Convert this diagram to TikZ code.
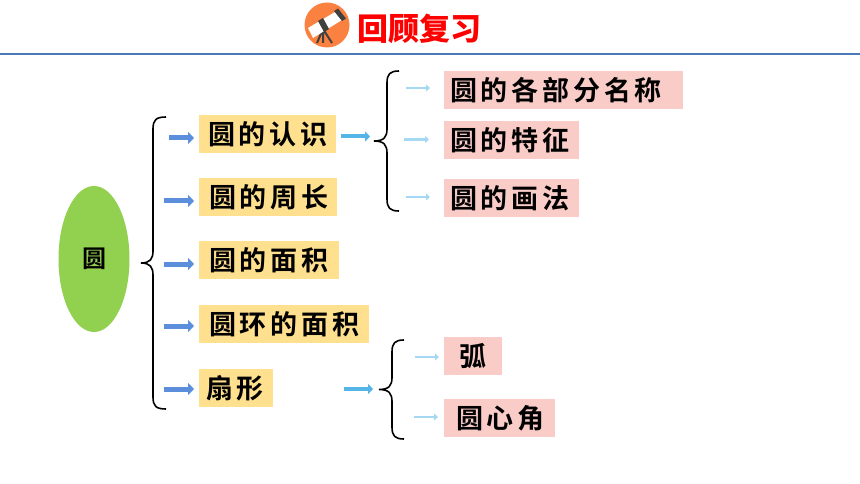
\documentclass[tikz,border=0pt]{standalone}
\usepackage{fontspec}
\usetikzlibrary{arrows.meta,shapes.geometric}
\setmainfont{Noto Sans CJK SC}[Scale=1]
\newfontfamily\cjkm{Noto Sans CJK SC Bold}[LetterSpace=14]
\newfontfamily\cjkt{Noto Sans CJK SC Black}
\definecolor{boxy}{HTML}{FFE08F}
\definecolor{boxp}{HTML}{FACCC8}
\definecolor{blk}{HTML}{5B8FDC}
\definecolor{mid}{HTML}{55B5E6}
\definecolor{lig}{HTML}{A5D8F2}
\definecolor{oval}{HTML}{92D050}
\definecolor{rulec}{HTML}{4A78B8}
\definecolor{orng}{HTML}{FB8140}
\tikzset{
 x=1pt,y=-1pt,
 lbl/.style={inner sep=0pt,minimum height=38pt,anchor=west,font=\cjkm\fontsize{27}{27}\selectfont,text=black},
 ybox/.style={lbl,fill=boxy},
 pbox/.style={lbl,fill=boxp},
 blkarrow/.style={draw=blk,line width=5pt,-{Triangle[length=6pt,width=12pt]},shorten >=5pt},
 midarrow/.style={draw=mid,line width=4pt,-{Triangle[length=5pt,width=10pt]}},
 ligarrow/.style={draw=lig,line width=2.5pt,-{Triangle[length=4pt,width=7pt]}},
 bracec/.style={draw=black,line width=1.6pt},
}
\newcommand{\padtext}[3]{\makebox[#1pt][l]{\hspace*{#2pt}#3}}
\newcommand{\bracepath}[5]{% xend xvert xtip ytop ybot
 \pgfmathsetmacro{\ymid}{(#4+#5)/2}
 \draw[bracec] (#1,#4) .. controls (#2+3,#4) and (#2,#4+3) .. (#2,#4+12) -- (#2,\ymid-12) .. controls (#2,\ymid-4) and (#2-3,\ymid) .. (#3,\ymid) .. controls (#2-3,\ymid) and (#2,\ymid+4) .. (#2,\ymid+12) -- (#2,#5-12) .. controls (#2,#5-3) and (#2+3,#5) .. (#1,#5);
}
\begin{document}
\begin{tikzpicture}
\useasboundingbox (0,0) rectangle (860,484);
\fill[white] (0,0) rectangle (860,484);
% header
\draw[rulec,line width=2pt] (0,54) -- (860,54);
\fill[orng] (327,25) circle (22.5);
\begin{scope}
 \draw[black!75,line width=2pt] (323,29) -- (317,43) (323,29) -- (323,43) (323,29) -- (332,43);
 \fill[white] (308,28) -- (335,12) -- (342,20) -- (313,38) -- cycle;
 \fill[black!75] (334,11) -- (338,8.5) -- (346,18.5) -- (342,21) -- cycle;
 \fill[black!75] (318,21) -- (323,18) -- (329,29) -- (324,32) -- cycle;
\end{scope}
\node[anchor=west,inner sep=0pt,font=\cjkt\fontsize{31}{31}\selectfont,text=red] (title) at (357,29) {回顾复习};
% root
\node[ellipse,fill=oval,minimum width=71pt,minimum height=146pt,inner sep=0pt,font=\cjkm\fontsize{24}{24}\selectfont] (root) at (94,259) {圆};
% level 1
\node[ybox] (a) at (199,134) {\padtext{137}{9}{圆的认识}};
\node[ybox] (b) at (199,197) {\padtext{138}{10}{圆的周长}};
\node[ybox] (c) at (199,260) {\padtext{140}{10}{圆的面积}};
\node[ybox] (d) at (199,324) {\padtext{170}{10}{圆环的面积}};
\node[ybox] (e) at (199,388) {\padtext{74}{7}{扇形}};
% level 2
\node[pbox] (a1) at (444,90) {\padtext{239}{6}{圆的各部分名称}};
\node[pbox] (a2) at (444,140) {\padtext{135}{6}{圆的特征}};
\node[pbox] (a3) at (444,198) {\padtext{135}{6}{圆的画法}};
\node[pbox] (e1) at (444,356) {\padtext{58}{15}{弧}};
\node[pbox] (e2) at (444,418) {\padtext{111}{12}{圆心角}};
% braces
\bracepath{166}{153}{141}{117}{409}
\bracepath{399}{387}{374}{71}{211}
\bracepath{404}{392}{379}{340}{439}
% free ends
\coordinate (sa) at (169,138);
\coordinate (sb) at (164,201);
\coordinate (sc) at (164,264);
\coordinate (sd) at (164,326);
\coordinate (se) at (164,389);
\coordinate (ma) at (341,136.5);
\coordinate (me) at (344,389);
\coordinate (mat) at (370,136.5);
\coordinate (met) at (373,389);
\coordinate (sa1) at (406,88);
\coordinate (sa2) at (404,139.5);
\coordinate (sa3) at (406,197);
\coordinate (se1) at (415,357);
\coordinate (se2) at (414,417);
% arrows
\draw[blkarrow] (sa) -- (a.west |- sa);
\draw[blkarrow] (sb) -- (b.west |- sb);
\draw[blkarrow] (sc) -- (c.west |- sc);
\draw[blkarrow] (sd) -- (d.west |- sd);
\draw[blkarrow] (se) -- (e.west |- se);
\draw[midarrow] (ma) -- (mat);
\draw[midarrow] (me) -- (met);
\draw[ligarrow,shorten >=14pt] (sa1) -- (a1.west |- sa1);
\draw[ligarrow,shorten >=15pt] (sa2) -- (a2.west |- sa2);
\draw[ligarrow,shorten >=14pt] (sa3) -- (a3.west |- sa3);
\draw[ligarrow,shorten >=5pt] (se1) -- (e1.west |- se1);
\draw[ligarrow,shorten >=6pt] (se2) -- (e2.west |- se2);
\end{tikzpicture}
\end{document}
